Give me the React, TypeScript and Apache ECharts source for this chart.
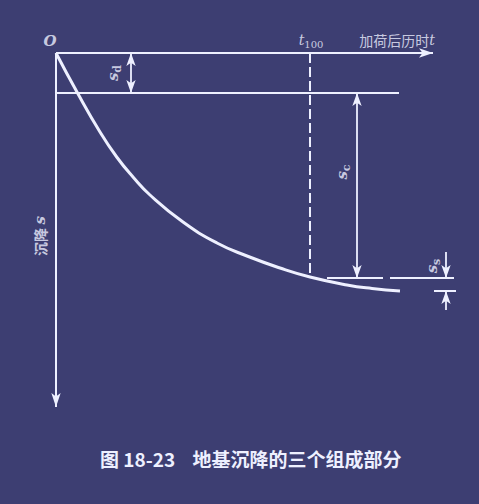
import React, { useEffect, useRef } from "react";
import * as echarts from "echarts";

// Settlement curve s(t) (time along x, settlement downward along y)
const curveT = [0, 20.7, 44, 60.7, 77, 94, 127, 161, 191, 224, 254, 291, 316, 344];
const curveS = [0, 38.5, 79, 104, 124, 142, 169, 190, 203, 215, 224, 232, 235.5, 238];

const T_AXIS = 377; // length of time axis
const S_AXIS = 354; // length of settlement axis
const T100 = 254;
const S_D = 40; // end of immediate settlement
const S_C = 225; // end of consolidation settlement
const S_END = 238; // end of secondary settlement

const captionNo = "图 18-23";
const captionText = "地基沉降的三个组成部分";
const xName = "加荷后历时";
const yName = "沉降";

const LINE = "#eef0ff";
const BG = "#3d3e72";

export default function App() {
  const ref = useRef<HTMLDivElement>(null);
  useEffect(() => {
    if (!ref.current) return;
    const chart = echarts.init(ref.current, undefined, { renderer: "svg" });
    const seg = (a: number[], b: number[], extra: any = {}) => ({
      type: "line",
      data: [a, b],
      symbol: "none",
      silent: true,
      lineStyle: { color: LINE, width: 2, ...(extra.lineStyle || {}) },
    });
    const arrowSeries = (pairs: any[], symbol: string[], width = 1.8, size: number[] = [7, 13]) => ({
      type: "line",
      data: [],
      markLine: {
        silent: true,
        symbol,
        symbolSize: size,
        label: { show: false },
        lineStyle: { color: LINE, width, type: "solid" },
        data: pairs.map(([a, b]) => [{ coord: a }, { coord: b }]),
      },
    });
    const rich = {
      i: { fontFamily: "DejaVu Serif", fontStyle: "italic", fontSize: 14, color: LINE },
      sub: { fontFamily: "DejaVu Serif", fontSize: 10, color: LINE, padding: [8, 0, 0, 0] },
      si: { fontFamily: "DejaVu Serif", fontStyle: "italic", fontWeight: "bold", fontSize: 15, color: LINE },
      ssub: { fontFamily: "DejaVu Serif", fontWeight: "bold", fontSize: 11, color: LINE, padding: [8, 0, 0, 0] },
      cn: { fontFamily: "Noto Sans CJK SC", fontSize: 14, color: LINE },
      cnb: { fontFamily: "Noto Sans CJK SC", fontWeight: "bold", fontSize: 14, color: LINE },
      o: { fontFamily: "DejaVu Serif", fontStyle: "italic", fontWeight: "bold", fontSize: 15, color: LINE },
    };
    const labels = [
      { value: [-6, -12], text: "{o|O}", rotate: 0 },
      { value: [T100 + 1, -13], text: "{i|t}{sub|100}", rotate: 0 },
      { value: [341, -13], text: `{cn|${xName}}{i|t}`, rotate: 0 },
      { value: [-16, 183], text: `{cnb|${yName}} {si|s}`, rotate: 90 },
      { value: [57, 20], text: "{si|s}{ssub|d}", rotate: 90 },
      { value: [286, 119], text: "{si|s}{ssub|c}", rotate: 90 },
      { value: [376, 213], text: "{si|s}{ssub|s}", rotate: 90 },
    ];
    chart.setOption({
      animation: false,
      backgroundColor: BG,
      title: {
        text: `${captionNo}\u00a0\u00a0\u00a0\u00a0${captionText}`,
        left: 95,
        top: 444,
        textStyle: { color: LINE, fontFamily: "Noto Sans CJK SC", fontWeight: "bold", fontSize: 19 },
      },
      grid: { left: 56, top: 53, width: 400, height: S_AXIS, containLabel: false },
      xAxis: {
        type: "value",
        min: 0,
        max: 400,
        show: false,
      },
      yAxis: {
        type: "value",
        min: 0,
        max: S_AXIS,
        inverse: true,
        show: false,
      },
      series: [
        {
          type: "line",
          data: curveT.map((t, i) => [t, curveS[i]]),
          symbol: "none",
          smooth: 0.5,
          lineStyle: { color: LINE, width: 3 },
        },
        seg([0, S_D], [343, S_D]),
        seg([T100, 0], [T100, S_C - 1], { lineStyle: { type: [10, 4], width: 2 } }),
        seg([271, S_C], [327, S_C]),
        seg([334, S_C], [398, S_C]),
        seg([378, S_END], [400, S_END]),
        arrowSeries([[[0, 0], [T_AXIS, 0]], [[0, 0], [0, S_AXIS]]], ["none", "arrow"], 2, [7, 14]),
        arrowSeries([[[75, 0], [75, S_D]], [[301, S_D], [301, S_C]]], ["arrow", "arrow"]),
        arrowSeries([[[390, 199], [390, S_C]], [[390, 257], [390, S_END]]], ["none", "arrow"]),
        {
          type: "scatter",
          clip: false,
          symbolSize: 0,
          silent: true,
          data: labels.map((l) => ({
            value: l.value,
            label: { show: true, position: "inside", formatter: l.text, rotate: l.rotate, rich },
          })),
        },
      ],
    });
    return () => chart.dispose();
  }, []);
  return (
    <div
      ref={ref}
      style={{ position: "fixed", left: 0, top: 0, width: 479, height: 504, background: BG }}
    />
  );
}
